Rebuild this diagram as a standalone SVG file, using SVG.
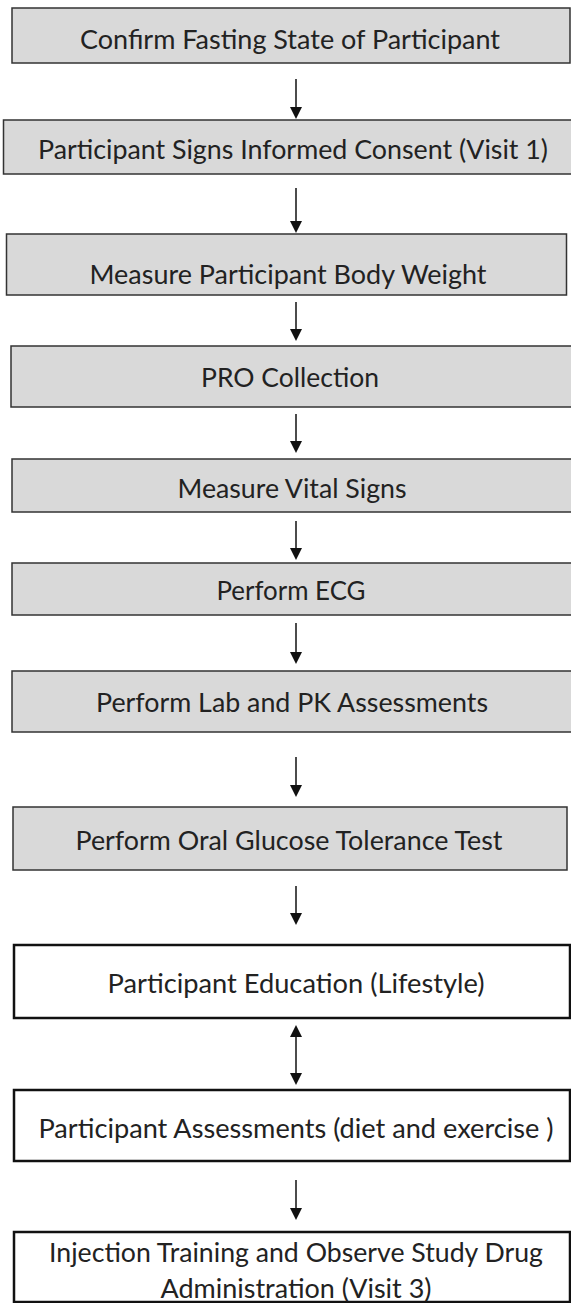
<svg xmlns="http://www.w3.org/2000/svg" width="571" height="1303" viewBox="0 0 571 1303">
<defs>
<style>
.g{fill:#d9d9d9;stroke:#333;stroke-width:1.5}
.w{fill:#fff;stroke:#111;stroke-width:2.5}
.t{font-family:Lato,"Liberation Sans",sans-serif;font-size:27.5px;fill:#222;text-anchor:middle}
.c{stroke:#111;stroke-width:1.5;fill:none}
</style>
<marker id="ah" markerUnits="userSpaceOnUse" markerWidth="12" markerHeight="16" refX="10" refY="6" orient="auto-start-reverse" viewBox="0 0 12 12">
<path d="M0,0 L12,6 L0,12 Z" fill="#111"/>
</marker>
</defs>
<rect width="571" height="1303" fill="#fff"/>
<g id="connectors">
<line class="c" x1="296" y1="79" x2="296" y2="117" marker-end="url(#ah)"/>
<line class="c" x1="296" y1="188" x2="296" y2="231" marker-end="url(#ah)"/>
<line class="c" x1="296" y1="302" x2="296" y2="339" marker-end="url(#ah)"/>
<line class="c" x1="296" y1="414" x2="296" y2="451" marker-end="url(#ah)"/>
<line class="c" x1="296" y1="521" x2="296" y2="558" marker-end="url(#ah)"/>
<line class="c" x1="296" y1="623" x2="296" y2="662" marker-end="url(#ah)"/>
<line class="c" x1="296" y1="757" x2="296" y2="795" marker-end="url(#ah)"/>
<line class="c" x1="296" y1="886" x2="296" y2="923" marker-end="url(#ah)"/>
<line class="c" x1="296" y1="1027" x2="296" y2="1083" marker-start="url(#ah)" marker-end="url(#ah)"/>
<line class="c" x1="296" y1="1180" x2="296" y2="1218" marker-end="url(#ah)"/>
</g>
<g id="n1"><rect class="g" x="12" y="8" width="558" height="55"/><text class="t" x="290" y="49" textLength="420" lengthAdjust="spacingAndGlyphs">Confirm Fasting State of Participant</text></g>
<g id="n2"><rect class="g" x="3.5" y="120" width="570" height="54"/><text class="t" x="293" y="159" textLength="510" lengthAdjust="spacingAndGlyphs">Participant Signs Informed Consent (Visit 1)</text></g>
<g id="n3"><rect class="g" x="6.5" y="234" width="560" height="61"/><text class="t" x="288" y="284" textLength="397" lengthAdjust="spacingAndGlyphs">Measure Participant Body Weight</text></g>
<g id="n4"><rect class="g" x="11" y="346" width="565" height="61"/><text class="t" x="290" y="387" textLength="178" lengthAdjust="spacingAndGlyphs">PRO Collection</text></g>
<g id="n5"><rect class="g" x="12" y="459" width="565" height="53"/><text class="t" x="292" y="498" textLength="229" lengthAdjust="spacingAndGlyphs">Measure Vital Signs</text></g>
<g id="n6"><rect class="g" x="12" y="563" width="565" height="52"/><text class="t" x="291" y="600" textLength="149" lengthAdjust="spacingAndGlyphs">Perform ECG</text></g>
<g id="n7"><rect class="g" x="12" y="671" width="565" height="61"/><text class="t" x="292" y="712" textLength="392" lengthAdjust="spacingAndGlyphs">Perform Lab and PK Assessments</text></g>
<g id="n8"><rect class="g" x="13" y="807" width="554" height="63"/><text class="t" x="289" y="850" textLength="427" lengthAdjust="spacingAndGlyphs">Perform Oral Glucose Tolerance Test</text></g>
<g id="n9"><rect class="w" x="14" y="945" width="556" height="73"/><text class="t" x="296" y="993" textLength="377" lengthAdjust="spacingAndGlyphs">Participant Education (Lifestyle)</text></g>
<g id="n10"><rect class="w" x="14" y="1090" width="556" height="71"/><text class="t" x="296" y="1138" textLength="515" lengthAdjust="spacingAndGlyphs">Participant Assessments (diet and exercise )</text></g>
<g id="n11"><rect class="w" x="14" y="1232" width="556" height="70"/><text class="t" x="296" y="1262" textLength="494" lengthAdjust="spacingAndGlyphs">Injection Training and Observe Study Drug</text><text class="t" x="296" y="1298" textLength="271" lengthAdjust="spacingAndGlyphs">Administration (Visit 3)</text></g>
</svg>
